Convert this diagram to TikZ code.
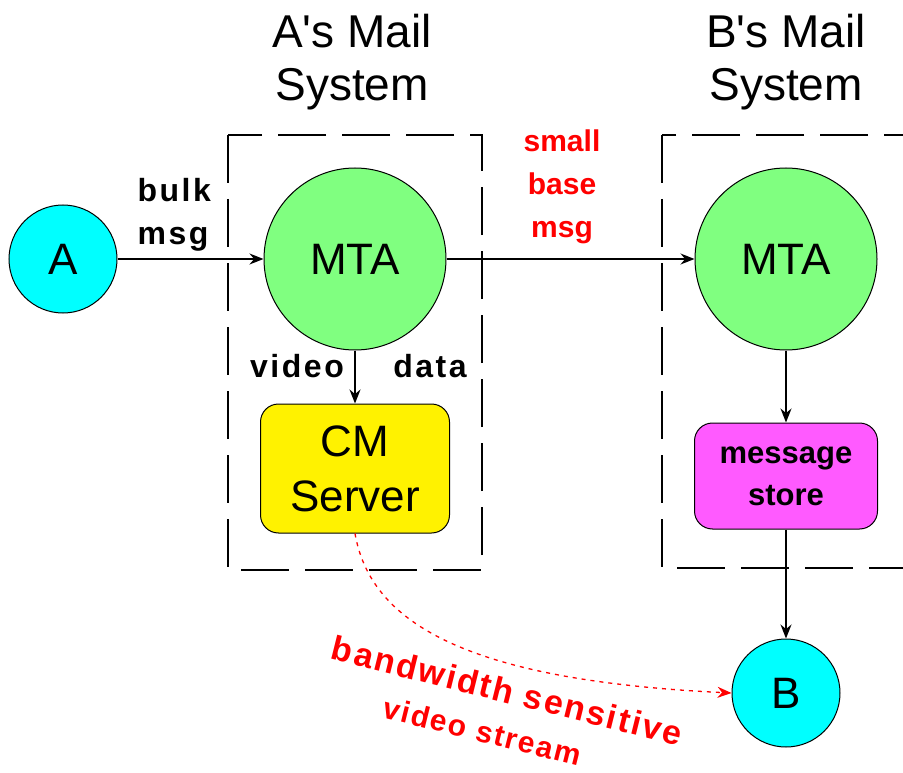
\documentclass[tikz,border=0pt]{standalone}
\usepackage{fontspec}
\setmainfont{Liberation Sans}
\usetikzlibrary{positioning}
\usetikzlibrary{arrows.meta}

\definecolor{usercyan}{RGB}{0,255,255}
\definecolor{mtagreen}{RGB}{128,255,128}
\definecolor{storepink}{RGB}{255,90,255}

\begin{document}
\begin{tikzpicture}[x=1pt,y=-1pt,
  user/.style={circle,draw,line width=1pt,fill=usercyan,minimum size=108pt,inner sep=0pt,font=\fontsize{44}{50}\selectfont},
  mta/.style={circle,draw,line width=1pt,fill=mtagreen,minimum size=182pt,inner sep=0pt,font=\fontsize{44}{50}\selectfont},
  server/.style={rectangle,draw,line width=1pt,rounded corners=18pt,inner sep=0pt,align=center},
  sysbox/.style={draw,line width=1.6pt,dash pattern=on 48pt off 16pt},
  title/.style={font=\fontsize{46}{53}\selectfont,align=center},
  msg/.style={font=\bfseries\fontsize{32}{43}\selectfont\addfontfeature{LetterSpace=8},align=center},
  >={Stealth[length=14pt,width=11pt]}]

\useasboundingbox (0,0) rectangle (903,773);

% mail systems
\node (title_a) [title] at (352,62) {A\textquotesingle s Mail\\System};
\node (title_b) [title] at (786,62) {B\textquotesingle s Mail\\System};
\draw [sysbox] (228,135) rectangle (482,570);
\draw [sysbox] (662,135) rectangle (940,568);

% users and agents
\node (a_user) [user] at (63,259) {A};
\node (mta_a) [mta] at (355,259) {MTA};
\node (mta_b) [mta] at (786,259) {MTA};
\node (cm_server) [server, fill=yellow, minimum width=189pt, minimum height=129pt,
  font=\fontsize{44}{55}\selectfont, below = 53pt of mta_a] {CM\\Server};
\node (msg_store) [server, fill=storepink, minimum width=183pt, minimum height=106pt,
  font=\bfseries\fontsize{31}{42}\selectfont, below = 72pt of mta_b] {message\\store};
\node (b_user) [user, below = 109pt of msg_store] {B};

% labels
\node (lbl_bulk) [msg, align=left, anchor=west] at (134,215) {bulk\\msg};
\node (lbl_small) [msg, red, font=\bfseries\fontsize{30}{43}\selectfont] at (562,187) {small\\base\\msg};
\node (lbl_video) [msg] at (297,366) {video};
\node (lbl_data) [msg] at (430,366) {data};
\node (lbl_stream) [msg, red, rotate=-14,
  font=\bfseries\fontsize{34}{44}\selectfont\addfontfeature{LetterSpace=6}] at (502,712)
  {bandwidth sensitive\\{\fontsize{30}{44}\selectfont video stream}\hspace*{28pt}};

\draw [->, line width=1.5pt] (a_user) -- (mta_a);
\draw [->, line width=1.5pt] (mta_a) -- (mta_b);
\draw [->, line width=1.5pt] (mta_a) -- (cm_server);
\draw [->, line width=1.5pt] (mta_b) -- (msg_store);
\draw [->, line width=1.5pt] (msg_store) -- (b_user);
\draw [->, red, line width=1.3pt, dash pattern=on 4pt off 5pt]
  (cm_server.south) .. controls (370,620) and (460,680) .. (b_user.west);
\end{tikzpicture}
\end{document}
